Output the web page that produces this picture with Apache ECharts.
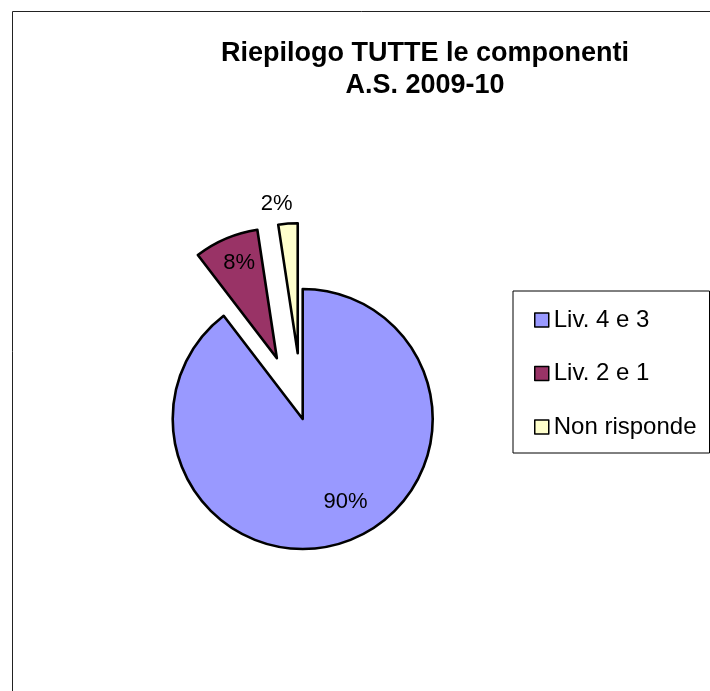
<!DOCTYPE html>
<html>
<head>
<meta charset="utf-8">
<script src="https://cdn.jsdelivr.net/npm/echarts@6/dist/echarts.min.js"></script>
<style>
  html, body { margin: 0; padding: 0; background: #fff; }
  #chart { width: 710px; height: 691px; }
</style>
</head>
<body>
<div id="chart"></div>
<script>
// data
var categories = ['Liv. 4 e 3', 'Liv. 2 e 1', 'Non risponde'];
var values = [89.6, 8.0, 2.4];
var exploded = [false, true, true];
var colors = ['#9999FF', '#993366', '#FFFFCC'];

// label nudges (Excel puts them off the mid radius)
var labelShift = [[21, 19], [-11, -33], [-16, -81]];

var font = 'Arial, "Liberation Sans", sans-serif';

var pieData = [];
for (var i = 0; i < categories.length; i++) {
  pieData.push({
    name: categories[i],
    value: values[i],
    selected: exploded[i],
    itemStyle: { color: colors[i] }
  });
}

var chart = echarts.init(document.getElementById('chart'));

chart.setOption({
  animation: false,
  backgroundColor: '#fff',
  graphic: [{
    type: 'rect',
    silent: true,
    shape: { x: 12.5, y: 11.5, width: 900, height: 900 },
    style: { fill: 'none', stroke: '#222', lineWidth: 1 }
  }],
  title: {
    text: 'Riepilogo TUTTE le componenti\nA.S. 2009-10',
    left: 425,
    top: 38,
    textAlign: 'center',
    padding: 0,
    textStyle: {
      fontFamily: font,
      fontSize: 27,
      fontWeight: 'bold',
      color: '#000',
      lineHeight: 32
    }
  },
  legend: {
    orient: 'vertical',
    left: 513,
    top: 291,
    padding: [17, 13, 14, 21],
    itemGap: 29.5,
    itemWidth: 14,
    itemHeight: 14,
    icon: 'rect',
    borderColor: '#000',
    borderWidth: 1,
    backgroundColor: '#fff',
    selectedMode: false,
    data: categories,
    itemStyle: { borderColor: '#000', borderWidth: 1.5 },
    textStyle: {
      fontFamily: font,
      fontSize: 24,
      color: '#000',
      padding: [0, 0, 0, 0]
    }
  },
  series: [{
    type: 'pie',
    center: [302.7, 419],
    radius: 130,
    startAngle: 90,
    clockwise: true,
    selectedMode: 'multiple',
    selectedOffset: 66,
    avoidLabelOverlap: false,
    emphasis: { disabled: true },
    itemStyle: { borderColor: '#000', borderWidth: 2.6 },
    label: {
      show: true,
      position: 'inside',
      fontFamily: font,
      fontSize: 22,
      color: '#000',
      formatter: function (p) { return Math.round(p.value) + '%'; }
    },
    labelLine: { show: false },
    labelLayout: function (p) {
      var s = labelShift[p.dataIndex];
      return { dx: s[0], dy: s[1] };
    },
    data: pieData
  }]
});
</script>
</body>
</html>
